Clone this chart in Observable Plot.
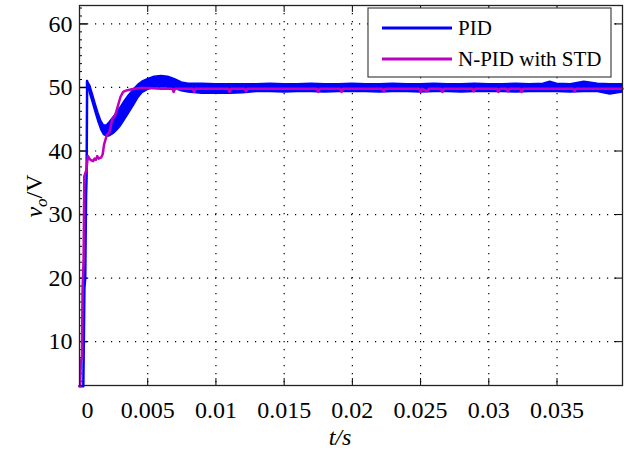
<!DOCTYPE html>
<html><head><meta charset="utf-8">
<script src="https://cdn.jsdelivr.net/npm/d3@7"></script>
<script src="https://cdn.jsdelivr.net/npm/@observablehq/plot@0.6"></script>
<style>body{margin:0;background:#fff;}
svg text, svg tspan { font-family: "Liberation Serif", "Times New Roman", serif !important; }
</style>
</head><body><div id="chart"></div>
<script>
// ---- tick values & labels ----
const xTicks = [0, 0.005, 0.01, 0.015, 0.02, 0.025, 0.03, 0.035];
const xTickLabels = ["0", "0.005", "0.01", "0.015", "0.02", "0.025", "0.03", "0.035"];
const yTicks = [10, 20, 30, 40, 50, 60];
const yMinorTicks = [3.75, 5, 6.25, 7.5, 8.75, 11.25, 12.5, 13.75, 15, 16.25, 17.5, 18.75,
  21.25, 22.5, 23.75, 25, 26.25, 27.5, 28.75, 31.25, 32.5, 33.75, 35, 36.25, 37.5, 38.75,
  41.25, 42.5, 43.75, 45, 46.25, 47.5, 48.75, 51.25, 52.5, 53.75, 55, 56.25, 57.5, 58.75, 61.25, 62.5];

// ---- series names ----
const seriesNames = ["PID", "N-PID with STD"];

// ---- PID: initial rise (line) ----
const pidRiseT = [0, 0.00028, 0.00036, 0.00042, 0.00048, 0.00052, 0.00056];
const pidRiseV = [3, 3, 18.5, 20, 33, 36, 51];

// ---- PID: ripple envelope (upper / lower) ----
const pidBandT = [0.00056, 0.0007, 0.0008, 0.001, 0.0012, 0.0014, 0.0016, 0.0018, 0.002, 0.0022,
  0.0025, 0.0028, 0.003, 0.0033, 0.0036, 0.004, 0.0043, 0.0046, 0.005, 0.0055, 0.006, 0.0065,
  0.007, 0.0075, 0.008, 0.009, 0.01, 0.011, 0.012, 0.013, 0.014, 0.015, 0.016, 0.017, 0.018,
  0.019, 0.02, 0.021, 0.022, 0.023, 0.024, 0.025, 0.026, 0.027, 0.028, 0.029, 0.03, 0.031,
  0.032, 0.033, 0.034, 0.0345, 0.035, 0.036, 0.037, 0.038, 0.0389, 0.0398];
const pidHi = [51, 50.6, 50.2, 48.8, 47.3, 45.9, 44.7, 44, 44, 44.5,
  45.3, 46.2, 46.8, 47.8, 48.7, 49.7, 50.4, 50.9, 51.3, 51.7, 51.8, 51.7,
  51.3, 50.8, 50.6, 50.6, 50.5, 50.5, 50.5, 50.5, 50.6, 50.5, 50.5, 50.6, 50.5,
  50.5, 50.6, 50.5, 50.5, 50.6, 50.5, 50.5, 50.6, 50.5, 50.5, 50.6, 50.5, 50.5,
  50.6, 50.5, 50.6, 50.9, 50.6, 50.5, 50.9, 50.6, 50.5, 50.5];
const pidLo = [50, 49.6, 48.8, 47.4, 45.9, 44.5, 43.3, 42.5, 42.3, 42.3,
  42.7, 43.3, 43.8, 44.8, 45.8, 47.2, 48.3, 49.1, 49.6, 50, 50, 50,
  49.8, 49.4, 49.2, 49, 49, 49, 49.1, 49.3, 49.3, 49.2, 49.3, 49.3, 49.2,
  49.3, 49.3, 49.3, 49.2, 49.3, 49.3, 49.2, 49.3, 49.3, 49.2, 49.3, 49.3, 49.3,
  49.2, 49.3, 49.3, 49.3, 49.3, 49.2, 49.3, 49.3, 48.9, 49.2];

// ---- N-PID with STD ----
const npidT = [0, 0.00005, 0.0001, 0.00018, 0.00022, 0.0003, 0.00035, 0.0005, 0.00062, 0.0008,
  0.001, 0.0011, 0.0012, 0.0013, 0.0014, 0.0016, 0.0017, 0.0018, 0.002, 0.0022, 0.0024, 0.0026,
  0.0028, 0.003, 0.0032, 0.0034, 0.0036, 0.004, 0.0045, 0.005, 0.006, 0.0068, 0.0069, 0.007,
  0.0083, 0.0084, 0.0085, 0.0109, 0.011, 0.0111, 0.0121, 0.0122, 0.0123, 0.015, 0.0174, 0.0175,
  0.0176, 0.0191, 0.0192, 0.0193, 0.0222, 0.0223, 0.0224, 0.0249, 0.025, 0.0251, 0.0255, 0.0256,
  0.0265, 0.0266, 0.0267, 0.0288, 0.0289, 0.029, 0.0306, 0.0307, 0.0308, 0.0313, 0.0314, 0.0315,
  0.0323, 0.0324, 0.0325, 0.0362, 0.0363, 0.0364, 0.0398];
const npidV = [3, 3, 7, 7.5, 18, 23, 36, 37, 39.2, 38.6,
  38.4, 38.8, 38.6, 39.2, 38.8, 39, 39.5, 41, 42.5, 43, 45, 45.5,
  47, 48.5, 49.3, 49.5, 49.6, 49.8, 49.9, 49.9, 49.8, 49.8, 49.3, 49.8,
  49.8, 49.3, 49.8, 49.8, 49.3, 49.8, 49.8, 49.4, 49.8, 49.8, 49.8, 49.3,
  49.8, 49.8, 49.3, 49.8, 49.8, 49.4, 49.8, 49.8, 49.3, 49.8, 49.4, 49.8,
  49.8, 49.3, 49.8, 49.8, 49.4, 49.8, 49.8, 49.3, 49.8, 49.8, 49.4, 49.8,
  49.8, 49.3, 49.8, 49.8, 49.4, 49.8, 49.8];

const colors = ["#0000ff", "#c000c0"];

const rise = pidRiseT.map((t, i) => ({t, v: pidRiseV[i]}));
const band = pidBandT.map((t, i) => ({t, hi: pidHi[i], lo: pidLo[i]}));
const npid = npidT.map((t, i) => ({t, v: npidV[i]}));
const xLabel = new Map(xTicks.map((d, i) => [d, xTickLabels[i]]));

const W = 624, H = 452, mL = 79, mR = 2, mT = 5, mB = 67;
const pw = W - mL - mR, ph = H - mT - mB;
const FONT = "Liberation Serif";

const plot = Plot.plot({
  width: W, height: H,
  marginLeft: mL, marginRight: mR, marginTop: mT, marginBottom: mB,
  style: {fontFamily: FONT, fontSize: "24px"},
  x: {domain: [0, 0.0398]},
  y: {domain: [3.1, 62.9]},
  marks: [
    Plot.ruleX(xTicks.slice(1), {x: d => d, stroke: "#000", strokeWidth: 1.2, strokeDasharray: "1.2,6.8"}),
    Plot.ruleY(yTicks, {y: d => d, stroke: "#000", strokeWidth: 1.2, strokeDasharray: "1.2,6.8"}),
    // inward ticks, four sides
    Plot.tickX(xTicks, {x: d => d, stroke: "#000", insetTop: ph - 7}),
    Plot.tickX(xTicks, {x: d => d, stroke: "#000", insetBottom: ph - 7}),
    Plot.tickY(yTicks, {y: d => d, stroke: "#000", strokeWidth: 1.5, insetRight: pw - 8}),
    Plot.tickY(yTicks, {y: d => d, stroke: "#000", insetLeft: pw - 8}),
    Plot.tickY(yMinorTicks, {y: d => d, stroke: "#000", insetRight: pw - 3}),
    // data
    Plot.areaY(band, {x: "t", y1: "lo", y2: "hi", fill: colors[0], stroke: colors[0], strokeWidth: 1.5, curve: "linear"}),
    Plot.line(rise, {x: "t", y: "v", stroke: colors[0], strokeWidth: 2.5}),
    Plot.line(npid, {x: "t", y: "v", stroke: colors[1], strokeWidth: 2.5}),
    Plot.frame({stroke: "#222", strokeWidth: 1.3}),
    // axis labels
    Plot.axisY({ticks: yTicks, tickSize: 0, tickPadding: 7, fontSize: 24, fontFamily: FONT, label: null}),
    Plot.axisX({ticks: xTicks.slice(1), tickSize: 0, tickPadding: 15, fontSize: 24, fontFamily: FONT, label: null, tickFormat: d => xLabel.get(d)}),
    Plot.axisX({ticks: [0], tickSize: 0, tickPadding: 15, fontSize: 24, fontFamily: FONT, label: null, dx: 8, tickFormat: d => xLabel.get(d)})
  ]
});
document.getElementById("chart").appendChild(plot);

const svg = d3.select(plot);
// x title
svg.append("text").attr("x", 340).attr("y", 445).attr("text-anchor", "middle")
  .attr("font-family", FONT).attr("font-size", 24).attr("font-style", "italic").text("t/s");
// y title
const yl = svg.append("text").attr("transform", "translate(42,196) rotate(-90)")
  .attr("text-anchor", "middle").attr("font-family", FONT).attr("font-size", 24);
yl.append("tspan").attr("font-style", "italic").text("v");
yl.append("tspan").attr("font-style", "italic").attr("font-size", 17).attr("dy", 5).text("o");
yl.append("tspan").attr("dy", -5).text("/V");
// legend
const lg = svg.append("g");
lg.append("rect").attr("x", 368).attr("y", 8).attr("width", 243).attr("height", 69)
  .attr("fill", "#fff").attr("stroke", "#444").attr("stroke-width", 1.2);
seriesNames.forEach((name, i) => {
  const cy = 28 + i * 31;
  lg.append("line").attr("x1", 382).attr("x2", 452).attr("y1", cy).attr("y2", cy)
    .attr("stroke", colors[i]).attr("stroke-width", 3);
  lg.append("text").attr("x", 458).attr("y", cy + 7).attr("text-anchor", "start")
    .attr("font-family", FONT).attr("font-size", 21).text(name);
});
</script>
</body></html>
